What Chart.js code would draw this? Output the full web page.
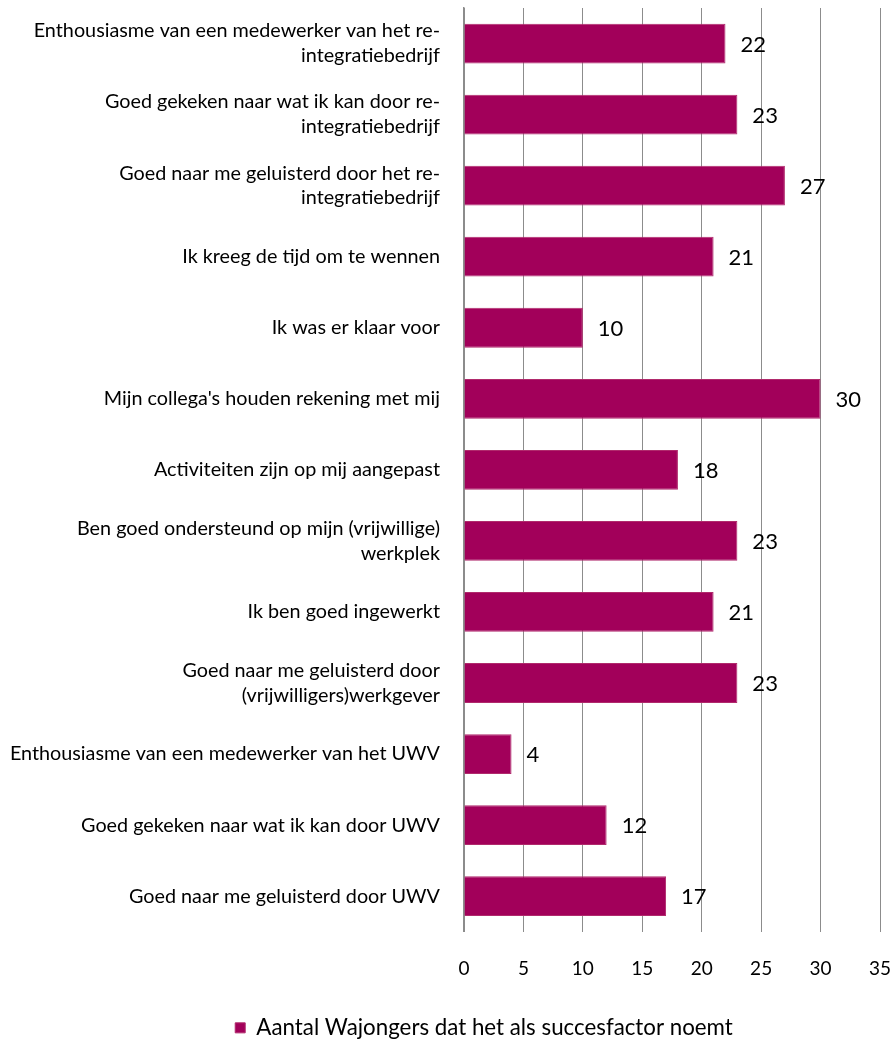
<!DOCTYPE html>
<html>
<head>
<meta charset="utf-8">
<script src="https://cdn.jsdelivr.net/npm/chart.js@4.4.1/dist/chart.umd.min.js"></script>
<style>
  html, body { margin: 0; padding: 0; background: #fff; }
  #wrap { width: 893px; height: 1039px; }
</style>
</head>
<body>
<div id="wrap"><canvas id="bar-chart"></canvas></div>
<script>
// categories (multi-line labels as arrays)
const categories = [
  ["Enthousiasme van een medewerker van het re-", "integratiebedrijf"],
  ["Goed gekeken naar wat ik kan door re-", "integratiebedrijf"],
  ["Goed naar me geluisterd door het re-", "integratiebedrijf"],
  "Ik kreeg de tijd om te wennen",
  "Ik was er klaar voor",
  "Mijn collega's houden rekening met mij",
  "Activiteiten zijn op mij aangepast",
  ["Ben goed ondersteund op mijn (vrijwillige)", "werkplek"],
  "Ik ben goed ingewerkt",
  ["Goed naar me geluisterd door", "(vrijwilligers)werkgever"],
  "Enthousiasme van een medewerker van het UWV",
  "Goed gekeken naar wat ik kan door UWV",
  "Goed naar me geluisterd door UWV"
];
const values = [22, 23, 27, 21, 10, 30, 18, 23, 21, 23, 4, 12, 17];
const seriesName = "Aantal Wajongers dat het als succesfactor noemt";

const FONT = "Lato, Calibri, 'Open Sans', sans-serif";

// draws the value next to every bar
const valueLabels = {
  id: "valueLabels",
  afterDatasetsDraw(chart) {
    const ctx = chart.ctx;
    const meta = chart.getDatasetMeta(0);
    ctx.save();
    ctx.font = "22px " + FONT;
    ctx.fillStyle = "#000";
    ctx.textAlign = "left";
    ctx.textBaseline = "middle";
    meta.data.forEach((bar, i) => {
      ctx.fillText(values[i], bar.x + 15, bar.y + 1);
    });
    ctx.restore();
  }
};

// legend sits a bit right of centre in the original
const legendShift = {
  id: "legendShift",
  afterLayout(chart) {
    chart.legend.left += 44;
    chart.legend.right += 44;
  }
};

new Chart(document.getElementById("bar-chart"), {
  type: "bar",
  data: {
    labels: categories,
    datasets: [{
      label: seriesName,
      data: values,
      backgroundColor: "#A2005A",
      borderColor: "#B02A6C",
      borderWidth: 1,
      barPercentage: 0.56,
      categoryPercentage: 1
    }]
  },
  options: {
    indexAxis: "y",
    responsive: true,
    maintainAspectRatio: false,
    animation: false,
    layout: { padding: { top: 8, right: 13, bottom: -10, left: 0 } },
    plugins: {
      tooltip: { enabled: false },
      legend: {
        position: "bottom",
        labels: {
          font: { family: FONT, size: 22.3 },
          color: "#000",
          boxWidth: 10,
          boxHeight: 10,
          padding: 2
        }
      }
    },
    scales: {
      x: {
        min: 0,
        max: 35,
        ticks: {
          stepSize: 5,
          padding: 26,
          color: "#000",
          font: { family: FONT, size: 19 }
        },
        grid: { color: "#8c8c8c", drawTicks: false },
        border: { display: false },
        afterFit(axis) {
          axis.height = 83;
          axis.paddingLeft = 0;
          axis.paddingRight = 0;
        }
      },
      y: {
        ticks: {
          padding: 24,
          color: "#000",
          font: { family: FONT, size: 19.8, lineHeight: 1.26 }
        },
        grid: { display: false, drawTicks: false },
        border: { color: "#8c8c8c", width: 1.5 },
        afterFit(axis) {
          axis.width = 464;
          axis.paddingTop = 0;
          axis.paddingBottom = 0;
        }
      }
    }
  },
  plugins: [valueLabels, legendShift]
});
</script>
</body>
</html>
